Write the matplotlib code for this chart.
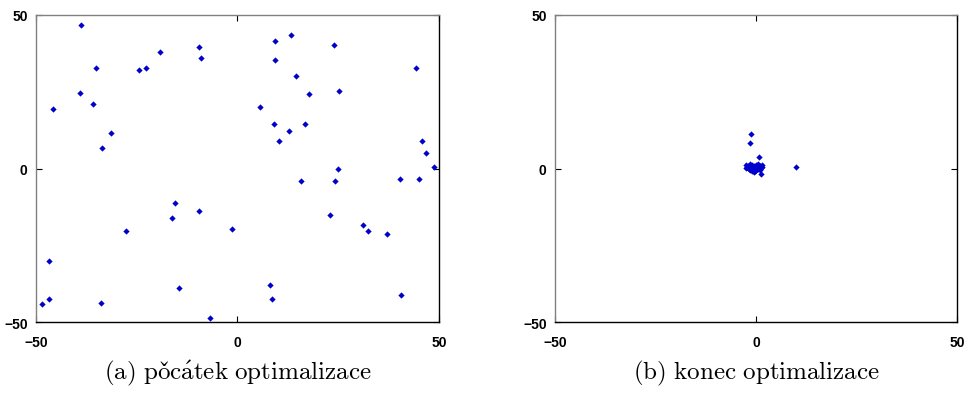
import matplotlib
matplotlib.use('Agg')
import matplotlib.pyplot as plt

plt.rcParams['mathtext.fontset'] = 'cm'

# start of optimisation: scattered particles
start_x = [-38.8, -45.7, -39.1, -35.9, -35.0, -31.3, -33.5, -24.5, -22.6, -19.2, -9.5, -9.0,
           9.2, 13.4, 9.2, 23.9, 14.4, 17.7, 25.3, 44.2, 5.6, 9.0, 16.8, 12.9, 10.4, 45.9,
           46.7, 48.8, 25.0,
           15.8, 24.3, 40.4, 45.0, 22.9, 31.1, 32.4, 37.2, -1.4, 8.1, 8.6, 40.6,
           -15.6, -16.3, -9.5, -27.7, -46.7, -46.7, -48.6, -33.8, -14.5, -6.7]
start_y = [46.8, 19.5, 24.6, 21.1, 32.6, 11.5, 6.7, 32.0, 32.6, 37.9, 39.6, 36.1,
           41.4, 43.4, 35.4, 40.2, 30.0, 24.3, 25.2, 32.6, 20.1, 14.4, 14.4, 12.1, 9.0, 9.0,
           5.1, 0.4, -0.3,
           -4.2, -4.2, -3.5, -3.5, -15.3, -18.5, -20.4, -21.3, -19.7, -37.9, -42.4, -41.1,
           -11.1, -16.2, -13.7, -20.4, -30.2, -42.6, -44.0, -43.7, -38.9, -48.8]

# end of optimisation: particles collapsed near the origin
end_x = [-1.2, -1.4, 0.7, 9.95, 1.2,
         -2.6, -2.2, -1.8, -1.5, -1.2, -0.9, -0.6, -0.3, 0.0, 0.3, 0.6, 0.9, 1.3, 1.6,
         -2.0, -1.4, -0.5, 0.1, 0.5, -1.0, -2.4, -1.7, -0.8, 0.2, 1.0, 1.4, -0.2, -1.1]
end_y = [11.1, 8.3, 3.8, 0.6, -1.9,
         1.2, 0.5, -0.3, 1.5, 0.2, -0.8, 0.9, 0.0, 1.3, 0.4, -0.2, 0.8, 0.3, 1.0,
         0.9, -0.5, -1.1, -0.5, 1.6, 1.1, 0.3, 0.7, 0.4, 0.9, -0.6, 0.6, -0.9, -0.2]

# captions (mathtext so the Czech accents come out in Computer Modern)
captions = [r'$\mathrm{(a)\ po\check{c}\acute{a}tek\ optimalizace}$',
            r'$\mathrm{(b)\ konec\ optimalizace}$']
ticks = [-50, 0, 50]

fig = plt.figure(figsize=(9.65, 4.06), dpi=100)
positions = [[0.0373, 0.2044, 0.4176, 0.7562], [0.5751, 0.2044, 0.4166, 0.7562]]

for pos, xs, ys, cap in zip(positions, [start_x, end_x], [start_y, end_y], captions):
    ax = fig.add_axes(pos)
    ax.plot(xs, ys, linestyle='none', marker='D', markersize=3.2,
            color='#0000cc', markeredgewidth=0)
    ax.set_xlim(-50, 50)
    ax.set_ylim(-50, 50)
    ax.set_xticks(ticks)
    ax.set_yticks(ticks)
    ax.tick_params(direction='in', length=4, width=0.8, top=True, right=True,
                   labelsize=10, pad=6)
    ax.tick_params(axis='x', pad=9)
    for lab in ax.get_xticklabels() + ax.get_yticklabels():
        lab.set_fontweight('bold')
        lab.set_fontfamily('Liberation Sans')
    ax.spines['top'].set_color('#808080')
    ax.spines['left'].set_color('#808080')
    ax.spines['bottom'].set_color('black')
    ax.spines['right'].set_color('black')
    for s in ax.spines.values():
        s.set_linewidth(1.0)
    cx = pos[0] + pos[2] / 2
    fig.text(cx, 1 - 373 / 406, cap, ha='center', va='center', fontsize=18)

fig.savefig('out.png', dpi=100)
